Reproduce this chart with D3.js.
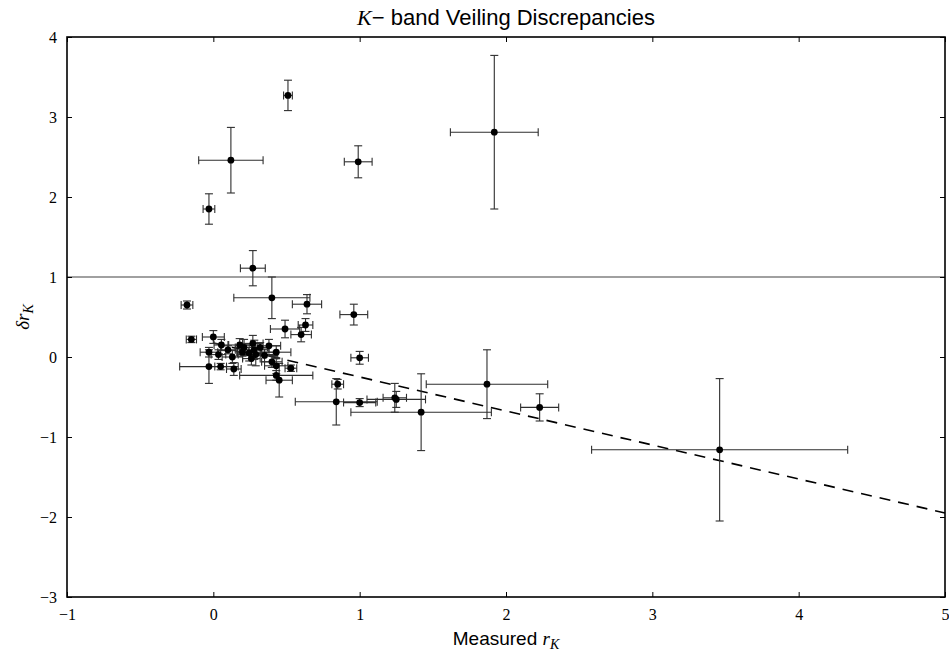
<!DOCTYPE html>
<html>
<head>
<meta charset="utf-8">
<script src="https://cdn.jsdelivr.net/npm/d3@7"></script>
<style>
  body { margin: 0; background: #fff; }
  .tick text { font-family: "Liberation Serif", "DejaVu Serif", serif; font-size: 16px; }
</style>
</head>
<body>
<svg id="chart" width="949" height="658"></svg>
<script>
// measured veiling r_K and discrepancy, with errors
const rK = [0.51, 0.12, -0.03, 0.99, 1.92, 0.27, 0.40, 0.64, 0.96, -0.18, -0.15, 1.00, 0.85, 0.84, 1.00, 1.24, 1.25, 1.42, 1.87, 2.23, 3.46,
            0.00, 0.055, -0.03, 0.035, -0.03, 0.05, 0.13, 0.14, 0.18, 0.21, 0.27, 0.28, 0.245, 0.29, 0.38, 0.43, 0.26, 0.40, 0.43, 0.53,
            0.43, 0.45, 0.49, 0.60, 0.63, 0.32, 0.20, 0.35, 0.10];
const dRK = [3.27, 2.46, 1.85, 2.44, 2.81, 1.11, 0.74, 0.66, 0.53, 0.65, 0.22, -0.01, -0.34, -0.56, -0.57, -0.51, -0.53, -0.69, -0.34, -0.63, -1.16,
             0.25, 0.15, 0.06, 0.03, -0.12, -0.12, 0.00, -0.15, 0.15, 0.12, 0.17, 0.09, 0.05, 0.03, 0.14, 0.06, -0.02, -0.06, -0.11, -0.14,
             -0.23, -0.29, 0.35, 0.28, 0.40, 0.12, 0.06, 0.02, 0.09];
const rKErr = [0.03, 0.22, 0.04, 0.095, 0.30, 0.085, 0.26, 0.10, 0.095, 0.04, 0.035, 0.06, 0.04, 0.28, 0.11, 0.08, 0.20, 0.48, 0.415, 0.13, 0.875,
               0.075, 0.05, 0.06, 0.05, 0.20, 0.04, 0.07, 0.05, 0.08, 0.06, 0.07, 0.10, 0.08, 0.12, 0.08, 0.10, 0.06, 0.07, 0.08, 0.04,
               0.25, 0.09, 0.10, 0.07, 0.05, 0.05, 0.04, 0.09, 0.05];
const dRKErr = [0.19, 0.41, 0.19, 0.20, 0.96, 0.22, 0.26, 0.12, 0.13, 0.05, 0.04, 0.08, 0.06, 0.29, 0.05, 0.18, 0.10, 0.48, 0.43, 0.17, 0.89,
                0.08, 0.07, 0.06, 0.06, 0.21, 0.04, 0.08, 0.08, 0.08, 0.10, 0.10, 0.12, 0.10, 0.14, 0.08, 0.08, 0.08, 0.07, 0.10, 0.04,
                0.06, 0.21, 0.11, 0.09, 0.08, 0.06, 0.05, 0.08, 0.05];

// fitted trend (dashed) and reference level
const fitX = [0, 5];
const fitIntercept = 0.175, fitSlope = -0.425;
const refLevel = 1;

const xTicks = [-1, 0, 1, 2, 3, 4, 5];
const yTicks = [-3, -2, -1, 0, 1, 2, 3, 4];

const margin = { top: 37, right: 4, bottom: 61, left: 67 };
const W = 949, H = 658;
const width = W - margin.left - margin.right;
const height = H - margin.top - margin.bottom;

const svg = d3.select("#chart");
const g = svg.append("g").attr("transform", `translate(${margin.left},${margin.top})`);

const x = d3.scaleLinear().domain([-1, 5]).range([0, width]);
const y = d3.scaleLinear().domain([-3, 4]).range([height, 0]);

const fmt = d => String(d).replace("-", "\u2212");

// reference line at 1
g.append("line")
  .attr("x1", 0).attr("x2", width)
  .attr("y1", y(refLevel)).attr("y2", y(refLevel))
  .attr("stroke", "#808080").attr("stroke-width", 1.5);

// dashed fit
g.append("line")
  .attr("x1", x(fitX[0])).attr("y1", y(fitIntercept + fitSlope * fitX[0]))
  .attr("x2", x(fitX[1])).attr("y2", y(fitIntercept + fitSlope * fitX[1]))
  .attr("stroke", "#000").attr("stroke-width", 1.6)
  .attr("stroke-dasharray", "11,8");

const pts = rK.map((v, i) => ({ x: v, y: dRK[i], ex: rKErr[i], ey: dRKErr[i] }));
const cap = 4;
const eb = g.append("g").attr("stroke", "#2e2e2e").attr("stroke-width", 1.1).attr("fill", "none");

pts.forEach(p => {
  const cx = x(p.x), cy = y(p.y);
  const x0 = x(p.x - p.ex), x1 = x(p.x + p.ex);
  const y0 = y(p.y - p.ey), y1 = y(p.y + p.ey);
  eb.append("line").attr("x1", x0).attr("x2", x1).attr("y1", cy).attr("y2", cy);
  eb.append("line").attr("x1", x0).attr("x2", x0).attr("y1", cy - cap).attr("y2", cy + cap);
  eb.append("line").attr("x1", x1).attr("x2", x1).attr("y1", cy - cap).attr("y2", cy + cap);
  eb.append("line").attr("x1", cx).attr("x2", cx).attr("y1", y0).attr("y2", y1);
  eb.append("line").attr("x1", cx - cap).attr("x2", cx + cap).attr("y1", y0).attr("y2", y0);
  eb.append("line").attr("x1", cx - cap).attr("x2", cx + cap).attr("y1", y1).attr("y2", y1);
});

g.append("g").selectAll("circle")
  .data(pts)
  .enter()
  .append("circle")
  .attr("cx", d => x(d.x))
  .attr("cy", d => y(d.y))
  .attr("r", 3.4)
  .attr("fill", "#000");

// axes, ticks inward on all four sides
g.append("g")
  .attr("transform", `translate(0,${height})`)
  .call(d3.axisBottom(x).tickValues(xTicks).tickSize(-5).tickPadding(12).tickFormat(fmt));
g.append("g")
  .call(d3.axisTop(x).tickValues(xTicks).tickSize(-5).tickFormat(""));
g.append("g")
  .call(d3.axisLeft(y).tickValues(yTicks).tickSize(-5).tickPadding(10).tickFormat(fmt));
g.append("g")
  .attr("transform", `translate(${width},0)`)
  .call(d3.axisRight(y).tickValues(yTicks).tickSize(-5).tickFormat(""));

g.selectAll(".domain").remove();
g.selectAll(".tick line").attr("stroke", "#000").attr("stroke-width", 1);
g.append("rect")
  .attr("width", width).attr("height", height)
  .attr("fill", "none").attr("stroke", "#000").attr("stroke-width", 1.6);

// title
const title = svg.append("text")
  .attr("x", margin.left + width / 2).attr("y", 25)
  .attr("text-anchor", "middle")
  .style("font-family", "'Liberation Sans', Arial, sans-serif")
  .style("font-size", "22px");
title.append("tspan").style("font-family", "'Liberation Serif', serif").style("font-style", "italic").text("K");
title.append("tspan").text("\u2212 band Veiling Discrepancies");

// x label
const xl = svg.append("text")
  .attr("x", margin.left + width / 2).attr("y", 645)
  .attr("text-anchor", "middle")
  .style("font-family", "'Liberation Sans', Arial, sans-serif")
  .style("font-size", "19px");
xl.append("tspan").text("Measured ");
xl.append("tspan").style("font-family", "'Liberation Serif', serif").style("font-style", "italic").text("r");
xl.append("tspan").attr("dy", 4).style("font-family", "'Liberation Serif', serif").style("font-style", "italic").style("font-size", "14px").text("K");

// y label
const yl = svg.append("text")
  .attr("transform", `translate(29,${margin.top + height / 2}) rotate(-90)`)
  .attr("text-anchor", "middle")
  .style("font-family", "'Liberation Serif', serif")
  .style("font-style", "italic")
  .style("font-size", "19px");
yl.append("tspan").text("\u03b4r");
yl.append("tspan").attr("dy", 4).style("font-size", "14px").text("K");
</script>
</body>
</html>
